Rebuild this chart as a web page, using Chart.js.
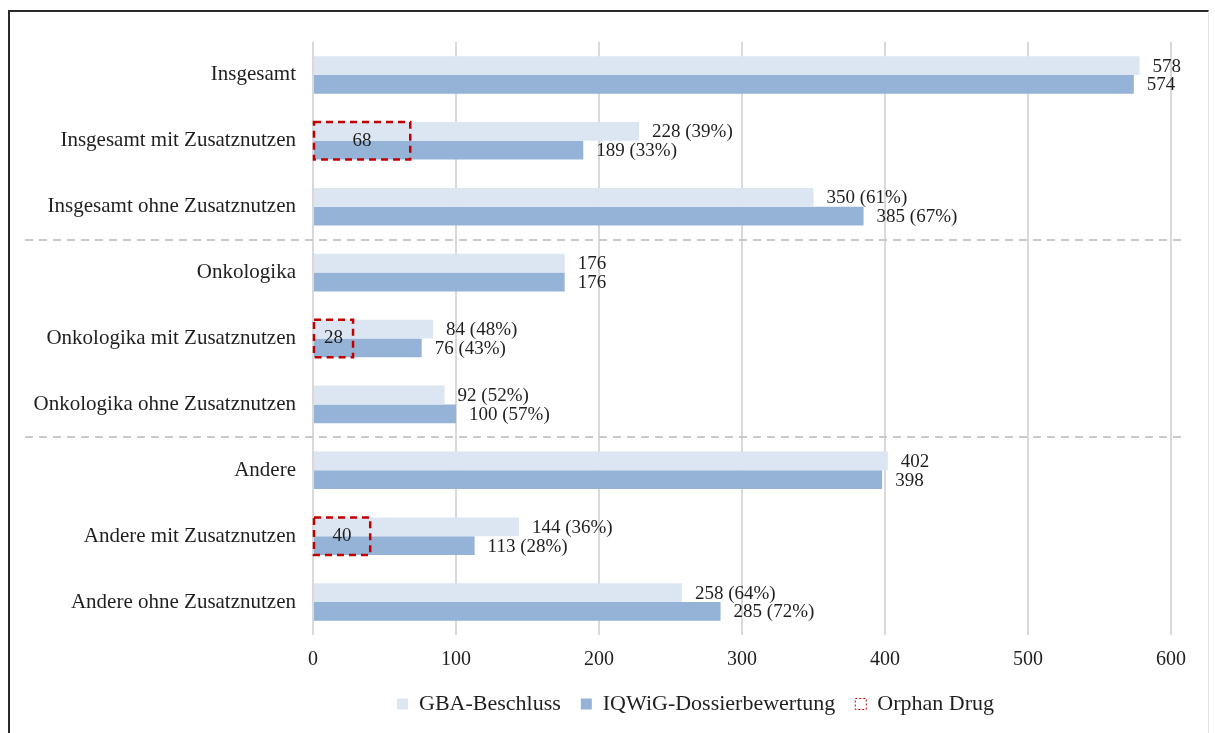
<!DOCTYPE html>
<html>
<head>
<meta charset="utf-8">
<script src="https://cdn.jsdelivr.net/npm/chart.js@4.4.1/dist/chart.umd.min.js"></script>
<style>
  html, body { margin: 0; padding: 0; background: #fff; overflow: hidden; }
  #frame {
    position: absolute; left: 8px; top: 10px; width: 1198px; height: 730px;
    border-left: 2px solid #2a2a2a; border-top: 2px solid #2a2a2a; border-right: 1px solid #e4e4e4;
  }
  #chart { position: absolute; left: 0; top: 0; }
</style>
</head>
<body>
<div id="frame"></div>
<canvas id="chart" width="1215" height="733"></canvas>
<script>
const categories = [
    'Insgesamt', 'Insgesamt mit Zusatznutzen', 'Insgesamt ohne Zusatznutzen',
    'Onkologika', 'Onkologika mit Zusatznutzen', 'Onkologika ohne Zusatznutzen',
    'Andere', 'Andere mit Zusatznutzen', 'Andere ohne Zusatznutzen'
];
const gbaValues   = [578, 228, 350, 176, 84, 92, 402, 144, 258];
const iqwigValues = [574, 189, 385, 176, 76, 100, 398, 113, 285];
const gbaPct      = [null, 39, 61, null, 48, 52, null, 36, 64];
const iqwigPct    = [null, 33, 67, null, 43, 57, null, 28, 72];
const orphanDrugs = [null, 68, null, null, 28, null, null, 40, null];
const groupBreaks = [2, 5]; // dashed line after these rows
const xTicks = [0, 100, 200, 300, 400, 500, 600];

const FONT = "'Liberation Serif', 'Times New Roman', serif";
const TEXT = '#1f1f1f';
const RED = '#c00000';

// value labels right of each bar
const valueLabels = {
    id: 'valueLabels',
    afterDatasetsDraw(chart) {
        const ctx = chart.ctx;
        const pcts = [gbaPct, iqwigPct];
        ctx.save();
        ctx.font = '19px ' + FONT;
        ctx.fillStyle = TEXT;
        ctx.textAlign = 'left';
        ctx.textBaseline = 'middle';
        chart.data.datasets.forEach((ds, d) => {
            chart.getDatasetMeta(d).data.forEach((bar, i) => {
                const p = pcts[d][i];
                const txt = ds.data[i] + (p != null ? ` (${p}%)` : '');
                ctx.fillText(txt, bar.x + 13, bar.y + 1);
            });
        });
        ctx.restore();
    }
};

// red dashed boxes for orphan drugs + group separators
const extras = {
    id: 'extras',
    afterDatasetsDraw(chart) {
        const ctx = chart.ctx;
        const x = chart.scales.x, y = chart.scales.y;
        ctx.save();
        // separators
        ctx.strokeStyle = '#c9c9c9';
        ctx.lineWidth = 2;
        ctx.setLineDash([8, 6]);
        groupBreaks.forEach(r => {
            const yy = Math.round((y.getPixelForValue(r) + y.getPixelForValue(r + 1)) / 2);
            ctx.beginPath();
            ctx.moveTo(25, yy);
            ctx.lineTo(1186, yy);
            ctx.stroke();
        });
        // orphan boxes
        const m0 = chart.getDatasetMeta(0).data, m1 = chart.getDatasetMeta(1).data;
        orphanDrugs.forEach((v, i) => {
            if (v == null) return;
            const top = m0[i].y - m0[i].height / 2;
            const bottom = m1[i].y + m1[i].height / 2;
            const left = x.getPixelForValue(0) + 1;
            const right = x.getPixelForValue(v);
            ctx.strokeStyle = RED;
            ctx.lineWidth = 2.5;
            ctx.setLineDash([7, 5]);
            ctx.strokeRect(left, top, right - left, bottom - top);
            ctx.setLineDash([]);
            ctx.font = '19px ' + FONT;
            ctx.fillStyle = TEXT;
            ctx.textAlign = 'center';
            ctx.textBaseline = 'middle';
            ctx.fillText(String(v), (left + right) / 2, (top + bottom) / 2);
        });
        ctx.restore();
    }
};

// nudge the legend under the plot rather than the whole canvas
const legendShift = {
    id: 'legendShift',
    afterLayout(chart) {
        const lg = chart.legend;
        if (!lg) return;
        const dx = 110, dy = -8;
        lg.left += dx; lg.right += dx;
        lg.top += dy; lg.bottom += dy;
        lg.legendHitBoxes.forEach(h => { h.left += dx; h.top += dy; });
    }
};

new Chart(document.getElementById('chart'), {
    type: 'bar',
    data: {
        labels: categories,
        datasets: [
            { label: 'GBA-Beschluss', data: gbaValues, backgroundColor: '#dce6f2', borderWidth: 0 },
            { label: 'IQWiG-Dossierbewertung', data: iqwigValues, backgroundColor: '#95b3d7', borderWidth: 0 }
        ]
    },
    options: {
        indexAxis: 'y',
        responsive: false,
        animation: false,
        datasets: { bar: { categoryPercentage: 0.57, barPercentage: 1 } },
        layout: { padding: { top: 42, right: 44, left: 0, bottom: 0 } },
        scales: {
            x: {
                min: 0, max: 600,
                afterBuildTicks: s => { s.ticks = xTicks.map(v => ({ value: v })); },
                grid: { color: '#d9d9d9', lineWidth: 2, drawTicks: false },
                border: { display: false },
                ticks: { padding: 13, color: TEXT, font: { family: FONT, size: 20 } },
                afterFit: s => { s.height = 46; }
            },
            y: {
                grid: { display: false, drawTicks: false },
                border: { display: false },
                ticks: { padding: 17, color: TEXT, font: { family: FONT, size: 21 } },
                afterFit: s => { s.width = 313; }
            }
        },
        plugins: {
            tooltip: { enabled: false },
            legend: {
                position: 'bottom',
                labels: {
                    color: TEXT,
                    font: { family: FONT, size: 22 },
                    boxWidth: 11,
                    boxHeight: 11,
                    padding: 20,
                    generateLabels(chart) {
                        const items = Chart.defaults.plugins.legend.labels.generateLabels(chart);
                        items.forEach(it => { it.lineWidth = 0; });
                        items.push({
                            text: 'Orphan Drug',
                            fillStyle: '#ffffff',
                            strokeStyle: RED,
                            lineWidth: 1,
                            lineDash: [2, 2],
                            hidden: false,
                            datasetIndex: -1
                        });
                        return items;
                    }
                }
            }
        }
    },
    plugins: [valueLabels, extras, legendShift]
});
</script>
</body>
</html>
